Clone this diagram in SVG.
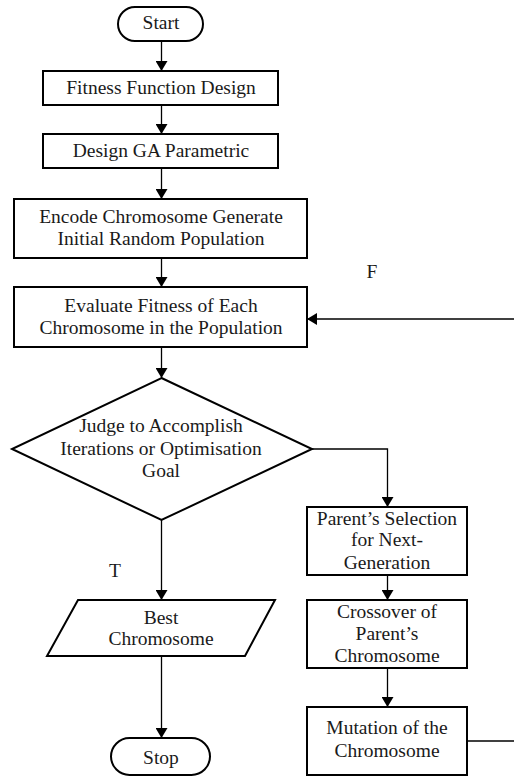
<svg xmlns="http://www.w3.org/2000/svg" width="514" height="778" viewBox="0 0 514 778">
<defs>
<style>
.n{fill:#fff;stroke:#000;stroke-width:2}
.t{font-family:'Liberation Serif','Times New Roman',serif;font-size:19.5px;fill:#1a1a1a;text-anchor:middle}
.c{fill:none;stroke:#000;stroke-width:1.3}
</style>
<marker id="ah" viewBox="0 0 10 12" refX="10" refY="6" markerWidth="10" markerHeight="12" markerUnits="userSpaceOnUse" orient="auto">
<path d="M0,0 L10,6 L0,12 Z" fill="#000"/>
</marker>
</defs>
<rect width="514" height="778" fill="#fff"/>
<g id="connectors">
<path class="c" d="M161.5,41 V71" marker-end="url(#ah)"/>
<path class="c" d="M161.5,105 V134" marker-end="url(#ah)"/>
<path class="c" d="M161.5,168 V199" marker-end="url(#ah)"/>
<path class="c" d="M161.5,258 V287" marker-end="url(#ah)"/>
<path class="c" d="M161.5,347 V378" marker-end="url(#ah)"/>
<path class="c" d="M514,319 H307" marker-end="url(#ah)"/>
<path class="c" d="M312,449 H387.5 V507" marker-end="url(#ah)"/>
<path class="c" d="M161.5,520 V600" marker-end="url(#ah)"/>
<path class="c" d="M161.5,656 V738" marker-end="url(#ah)"/>
<path class="c" d="M387.5,575 V600" marker-end="url(#ah)"/>
<path class="c" d="M387.5,668 V707" marker-end="url(#ah)"/>
<path class="c" d="M467,741 H514"/>
<text class="t" x="372" y="278">F</text>
<text class="t" x="115" y="577">T</text>
</g>
<g id="start">
<rect class="n" x="118" y="7" width="85" height="34" rx="17"/>
<text class="t" x="161" y="29">Start</text>
</g>
<g id="fitness">
<rect class="n" x="43" y="71" width="235" height="34"/>
<text class="t" x="161" y="94">Fitness Function Design</text>
</g>
<g id="design">
<rect class="n" x="43" y="134" width="235" height="34"/>
<text class="t" x="161" y="157">Design GA Parametric</text>
</g>
<g id="encode">
<rect class="n" x="14" y="199" width="293" height="59"/>
<text class="t" x="161" y="223">Encode Chromosome Generate</text>
<text class="t" x="161" y="245">Initial Random Population</text>
</g>
<g id="evaluate">
<rect class="n" x="14" y="287" width="293" height="60"/>
<text class="t" x="161" y="312">Evaluate Fitness of Each</text>
<text class="t" x="161" y="334">Chromosome in the Population</text>
</g>
<g id="judge">
<polygon class="n" points="161.5,378 312,449 161.5,520 12,449"/>
<text class="t" x="161" y="432">Judge to Accomplish</text>
<text class="t" x="161" y="455">Iterations or Optimisation</text>
<text class="t" x="161" y="477">Goal</text>
</g>
<g id="parent">
<rect class="n" x="307" y="507" width="160" height="68"/>
<text class="t" x="387" y="525">Parent’s Selection</text>
<text class="t" x="387" y="546">for Next-</text>
<text class="t" x="387" y="569">Generation</text>
</g>
<g id="crossover">
<rect class="n" x="307" y="600" width="160" height="68"/>
<text class="t" x="387" y="618">Crossover of</text>
<text class="t" x="387" y="640">Parent’s</text>
<text class="t" x="387" y="662">Chromosome</text>
</g>
<g id="mutation">
<rect class="n" x="307" y="707" width="160" height="68"/>
<text class="t" x="387" y="734">Mutation of the</text>
<text class="t" x="387" y="757">Chromosome</text>
</g>
<g id="best">
<polygon class="n" points="78,600 275,600 245,656 47,656"/>
<text class="t" x="161" y="624">Best</text>
<text class="t" x="161" y="645">Chromosome</text>
</g>
<g id="stop">
<rect class="n" x="111" y="738" width="99" height="37" rx="18.5"/>
<text class="t" x="161" y="764">Stop</text>
</g>
</svg>
